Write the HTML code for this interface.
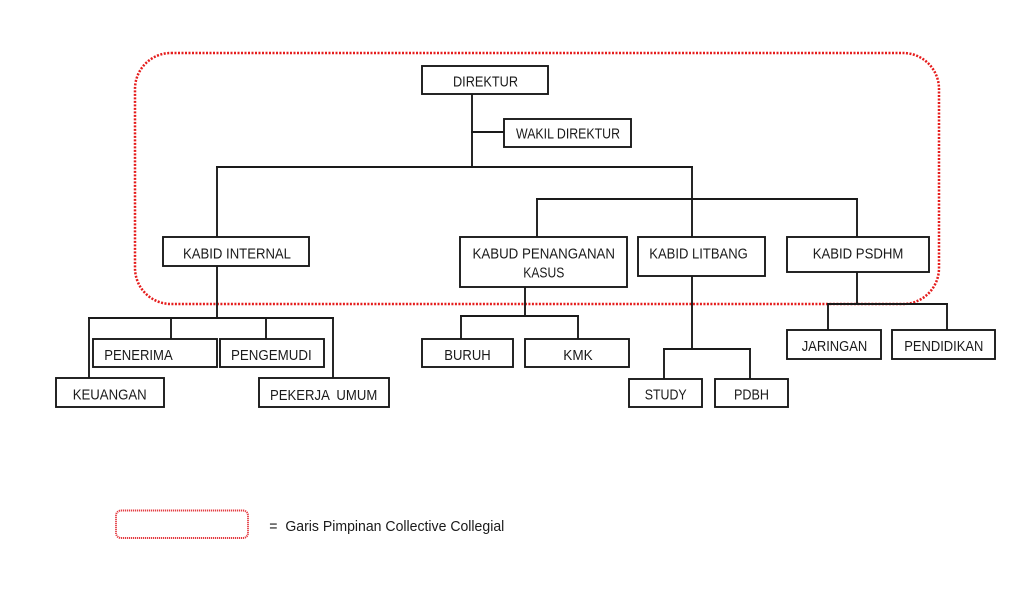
<!DOCTYPE html>
<html>
<head>
<meta charset="utf-8">
<style>
html,body{margin:0;padding:0;background:#fff;}
svg{display:block;}
text{font-family:"Liberation Sans",sans-serif;fill:#1a1a1a;}
</style>
</head>
<body>
<svg width="1024" height="596" viewBox="0 0 1024 596" xmlns="http://www.w3.org/2000/svg">
<rect x="0" y="0" width="1024" height="596" fill="#fff"/>
<!-- red dotted collegial boundary -->
<rect x="135" y="53" width="804" height="251" rx="36" ry="36" fill="none" stroke="#e51c1c" stroke-width="2.5" stroke-dasharray="2 1.5"/>

<!-- connectors -->
<g stroke="#1a1a1a" stroke-width="1.9" fill="none" stroke-linecap="square">
<line x1="472" y1="94" x2="472" y2="167"/>
<line x1="472" y1="132" x2="504" y2="132"/>
<line x1="217" y1="167" x2="692" y2="167"/>
<line x1="217" y1="167" x2="217" y2="237"/>
<line x1="692" y1="167" x2="692" y2="237"/>
<line x1="537" y1="199" x2="857" y2="199"/>
<line x1="537" y1="199" x2="537" y2="237"/>
<line x1="857" y1="199" x2="857" y2="237"/>
<line x1="217" y1="266" x2="217" y2="318"/>
<line x1="89" y1="318" x2="333" y2="318"/>
<line x1="89" y1="318" x2="89" y2="380"/>
<line x1="333" y1="318" x2="333" y2="378"/>
<line x1="171" y1="318" x2="171" y2="339"/>
<line x1="266" y1="318" x2="266" y2="339"/>
<line x1="525" y1="287" x2="525" y2="316"/>
<line x1="461" y1="316" x2="578" y2="316"/>
<line x1="461" y1="316" x2="461" y2="339"/>
<line x1="578" y1="316" x2="578" y2="339"/>
<line x1="692" y1="276" x2="692" y2="349"/>
<line x1="664" y1="349" x2="750" y2="349"/>
<line x1="664" y1="349" x2="664" y2="379"/>
<line x1="750" y1="349" x2="750" y2="379"/>
<line x1="857" y1="272" x2="857" y2="304"/>
<line x1="828" y1="304" x2="947" y2="304"/>
<line x1="828" y1="304" x2="828" y2="330"/>
<line x1="947" y1="304" x2="947" y2="330"/>
</g>

<!-- boxes -->
<g fill="#fff" stroke="#1a1a1a" stroke-width="1.9">
<rect x="422" y="66" width="126" height="28"/>
<rect x="504" y="119" width="127" height="28"/>
<rect x="163" y="237" width="146" height="29"/>
<rect x="460" y="237" width="167" height="50"/>
<rect x="638" y="237" width="127" height="39"/>
<rect x="787" y="237" width="142" height="35"/>
<rect x="93" y="339" width="124" height="28"/>
<rect x="220" y="339" width="104" height="28"/>
<rect x="56" y="378" width="108" height="29"/>
<rect x="259" y="378" width="130" height="29"/>
<rect x="422" y="339" width="91" height="28"/>
<rect x="525" y="339" width="104" height="28"/>
<rect x="629" y="379" width="73" height="28"/>
<rect x="715" y="379" width="73" height="28"/>
<rect x="787" y="330" width="94" height="29"/>
<rect x="892" y="330" width="103" height="29"/>
</g>

<!-- labels -->
<g font-size="15">
<text x="453" y="86.5" textLength="65" lengthAdjust="spacingAndGlyphs">DIREKTUR</text>
<text x="516" y="138.5" textLength="104" lengthAdjust="spacingAndGlyphs">WAKIL DIREKTUR</text>
<text x="183" y="258.3" textLength="108" lengthAdjust="spacingAndGlyphs">KABID INTERNAL</text>
<text x="472.5" y="258.3" textLength="142.5" lengthAdjust="spacingAndGlyphs">KABUD PENANGANAN</text>
<text x="523.3" y="277.3" textLength="41" lengthAdjust="spacingAndGlyphs">KASUS</text>
<text x="649.3" y="258.3" textLength="98.5" lengthAdjust="spacingAndGlyphs">KABID LITBANG</text>
<text x="812.7" y="258.3" textLength="90.6" lengthAdjust="spacingAndGlyphs">KABID PSDHM</text>
<text x="104.3" y="360" textLength="68.4" lengthAdjust="spacingAndGlyphs">PENERIMA</text>
<text x="231" y="360" textLength="80.7" lengthAdjust="spacingAndGlyphs">PENGEMUDI</text>
<text x="72.7" y="399.5" textLength="74" lengthAdjust="spacingAndGlyphs">KEUANGAN</text>
<text x="270" y="400" textLength="107.3" lengthAdjust="spacingAndGlyphs" xml:space="preserve">PEKERJA  UMUM</text>
<text x="444.3" y="360" textLength="46.4" lengthAdjust="spacingAndGlyphs">BURUH</text>
<text x="563.3" y="360" textLength="29.4" lengthAdjust="spacingAndGlyphs">KMK</text>
<text x="644.7" y="399.5" textLength="42" lengthAdjust="spacingAndGlyphs">STUDY</text>
<text x="734" y="399.5" textLength="35" lengthAdjust="spacingAndGlyphs">PDBH</text>
<text x="801.7" y="351" textLength="65.6" lengthAdjust="spacingAndGlyphs">JARINGAN</text>
<text x="904.3" y="351" textLength="79" lengthAdjust="spacingAndGlyphs">PENDIDIKAN</text>
</g>

<!-- legend -->
<rect x="116" y="510.5" width="132" height="27.5" rx="5" ry="5" fill="none" stroke="#e43a40" stroke-width="2" stroke-dasharray="1.2 0.8"/>
<text x="269.3" y="531" font-size="14.5" textLength="235" lengthAdjust="spacingAndGlyphs" xml:space="preserve">=  Garis Pimpinan Collective Collegial</text>
</svg>
</body>
</html>
